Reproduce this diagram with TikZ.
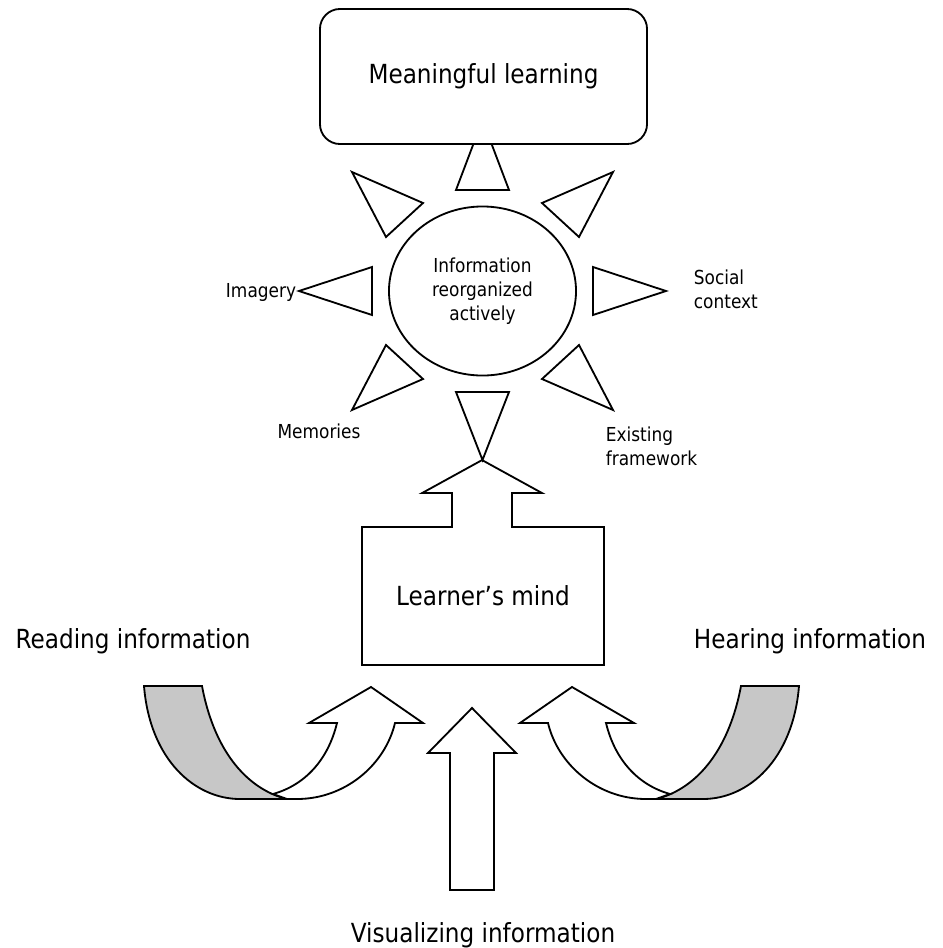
\documentclass[tikz,border=0pt]{standalone}
\usepackage{fontspec}
\setmainfont{DejaVu Sans}[FakeStretch=0.88]
\usetikzlibrary{shapes.geometric}

% one twisted band with its arrow head (left side, mirrored for the right)
\newcommand{\twistarrow}{%
  \draw[band] (144,686) -- (202,686) .. controls (215,755) and (250,790) .. (287,799)
    -- (240,799) .. controls (195,799) and (150,760) .. (144,686) -- cycle;
  \draw[blockarrow] (287,799) -- (297,799) .. controls (345,799) and (385,765) .. (395,723)
    -- (423,723) -- (371,687) -- (309,723) -- (337,723)
    .. controls (328,760) and (305,785) .. (273,794) -- cycle;
}

\begin{document}
\begin{tikzpicture}[
    x=0.025cm, y=-0.025cm,
    line width=1.3pt,
    goalbox/.style={draw, fill=white, rounded corners=0.5cm, minimum width=8.175cm, minimum height=3.375cm, font=\fontsize{18.7}{22}\selectfont},
    hub/.style={ellipse, draw, fill=white, minimum width=4.675cm, minimum height=4.225cm, inner sep=0pt, align=center, font=\fontsize{13.7}{17.1}\selectfont},
    petal/.style={draw, fill=white, line join=miter},
    band/.style={draw, fill=black!22},
    blockarrow/.style={draw, fill=white},
    outline/.style={draw},
    smalltext/.style={font=\fontsize{13.7}{17.1}\selectfont, inner sep=0pt, align=left},
    bigtext/.style={font=\fontsize{18.7}{22}\selectfont, inner sep=0pt}
]
\useasboundingbox (0,0) rectangle (942,948);

% petals round the hub
\draw[petal] (456,190) -- (482.5,120) -- (509,190) -- cycle;
\node[goalbox] (goal) at (483.5,76.5) {Meaningful learning};
\node[hub] (hub) at (482.5,291) {Information\\reorganized\\actively};
\draw[petal] (352,172) -- (423,203) -- (386,237) -- cycle;
\draw[petal] (613,172) -- (542,203) -- (579,237) -- cycle;
\draw[petal] (299,291) -- (372,267) -- (372,315) -- cycle;
\draw[petal] (666,291) -- (593,267) -- (593,315) -- cycle;
\draw[petal] (352,410) -- (386,345) -- (423,379) -- cycle;
\draw[petal] (613,410) -- (579,345) -- (542,379) -- cycle;
\draw[petal] (456,392) -- (509,392) -- (482.5,460) -- cycle;

\node[smalltext, anchor=base east] (imagery) at (297,297) {Imagery};
\node[smalltext, anchor=base] (memories) at (319,438) {Memories};
\node[smalltext, anchor=west] (framework) at (605,446) {Existing\\framework};
\node[smalltext, anchor=west] (social) at (693,289) {Social\\context};

% learner's mind with its arrow up
\node[bigtext, minimum width=6cm, minimum height=3.4cm] (mind) at (483,596) {Learner’s mind};
\draw[outline] (mind.north west) -- ++(90,0) -- ++(0,-34) -- ++(-30,0) -- ++(60,-33)
  -- ++(60,33) -- ++(-30,0) -- ++(0,34) -- (mind.north east) -- (mind.south east)
  -- (mind.south west) -- cycle;

% inputs
\draw[blockarrow] (450,890) -- (450,753) -- (428,753) -- (472,708) -- (516,753)
  -- (494,753) -- (494,890) -- cycle;
\twistarrow
\begin{scope}[shift={(943,0)}, xscale=-1]
  \twistarrow
\end{scope}

\node[bigtext, anchor=base] (reading) at (133,648) {Reading information};
\node[bigtext, anchor=base] (hearing) at (810,648) {Hearing information};
\node[bigtext, anchor=base] (visual) at (483,942) {Visualizing information};

\end{tikzpicture}
\end{document}
